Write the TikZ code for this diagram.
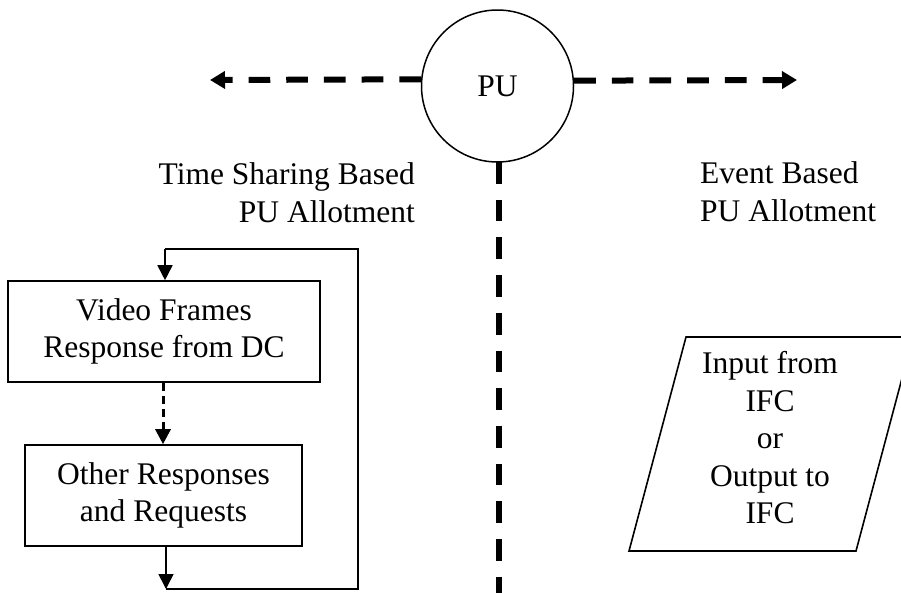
\documentclass[tikz,border=0pt]{standalone}
\usepackage{fontspec}
\setmainfont{Liberation Serif}
\usetikzlibrary{arrows.meta}

\begin{document}
\begin{tikzpicture}[x=1pt,y=-1pt,
  every node/.style={font=\fontsize{31.5}{37.5}\selectfont, inner sep=0pt},
  proc/.style={draw, line width=1.6pt, minimum height=101pt, align=center},
  flow/.style={line width=1.6pt},
  flowtip/.style={-{Triangle[length=15pt,width=15pt]}},
  bigdash/.style={line width=6pt, dash pattern=on 21.7pt off 16pt},
  bigtip/.style={-{Triangle[length=15pt,width=17pt]}},
  smalldash/.style={line width=3pt, dash pattern=on 8pt off 5pt},
]
\clip (0,0) rectangle (901,592);
\useasboundingbox (0,0) rectangle (901,592);

% processing unit and the two allotment directions
\node[draw, circle, line width=1.5pt, minimum size=152pt] (pu) at (497.5,86) {PU};
\coordinate (lefttip) at (210,80);
\coordinate (righttip) at (797,80);
\draw[bigdash, bigtip] (pu.175.5) -- (lefttip);
\draw[bigdash, bigtip] (pu.4.5) -- (righttip);

% divider between the two schemes
\coordinate (vtop) at (499,162);
\coordinate (vbot) at (499,600);
\draw[bigdash] (vtop) -- (vbot);

% headings
\node[anchor=north east, align=right] (tsl) at (415,162.5) {Time Sharing Based\\PU Allotment};
\node[anchor=north west, align=left] (ebl) at (700,161.5) {Event Based\\PU Allotment};

% time sharing loop
\node[proc, minimum width=312pt] (b1) at (164,331.5) {Video Frames\\Response from DC};
\node[proc, minimum width=277pt] (b2) at (163.5,495.5) {Other Responses\\and Requests};
\draw[smalldash, flowtip] (b1.south -| 163,0) -- (b2.north -| 163,0);

\coordinate (looptl) at (165,249);
\coordinate (looptr) at (358,249);
\coordinate (loopbr) at (358,589);
\coordinate (loopbl) at (166,589);
\draw[flow] (loopbl) -- (loopbr) -- (looptr) -- (looptl);
\draw[flow, flowtip] (looptl) -- (b1.north -| looptl);
\draw[flow, flowtip] (b2.south -| loopbl) -- (loopbl);

% event based input/output
\node[align=center] (io) at (770,438) {Input from\\IFC\\or\\Output to\\IFC};
\coordinate (iotl) at (686,337);
\coordinate (iotr) at (913,337);
\coordinate (iobr) at (856,551);
\coordinate (iobl) at (629,551);
\draw[flow, line join=miter] (iotl) -- (iotr) -- (iobr) -- (iobl) -- cycle;
\end{tikzpicture}
\end{document}
